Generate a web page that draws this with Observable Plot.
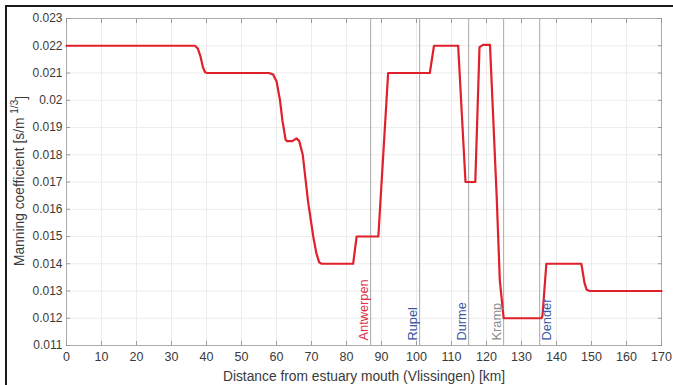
<!DOCTYPE html>
<html>
<head>
<meta charset="utf-8">
<script src="https://cdn.jsdelivr.net/npm/d3@7"></script>
<script src="https://cdn.jsdelivr.net/npm/@observablehq/plot@0.6"></script>
<style>
  html, body { margin: 0; padding: 0; background: #fff; }
  #wrap { position: relative; width: 673px; height: 385px; overflow: hidden; }
  #border { position: absolute; left: 5px; top: 5px; right: -10px; bottom: -10px;
            border-top: 2.5px solid #1a1a1a; border-left: 2.5px solid #1a1a1a; pointer-events: none; }
</style>
</head>
<body>
<div id="wrap"><div id="border"></div></div>
<script>
// Distance along estuary (km) and Manning coefficient (s/m^1/3)
const distanceKm = [0, 36.7, 37.5, 38.3, 39.0, 39.6, 40.2, 57.8, 59.0, 60.0, 61.0, 61.7, 62.6, 63.0, 64.5, 65.7, 66.5, 67.5, 69.0, 70.5, 71.4, 72.2, 72.9, 81.9, 82.9, 89.1, 91.9, 103.8, 105.0, 111.9, 114.0, 116.8, 118.0, 119.0, 121.0, 122.9, 123.8, 124.9, 135.7, 136.0, 137.1, 147.1, 148.0, 148.6, 149.5, 170];
const manning = [0.022, 0.022, 0.0219, 0.0216, 0.0212, 0.02103, 0.021, 0.021, 0.02095, 0.0207, 0.0200, 0.01925, 0.01855, 0.0185, 0.0185, 0.0186, 0.0185, 0.0180, 0.0163, 0.0150, 0.01438, 0.01405, 0.014, 0.014, 0.015, 0.015, 0.021, 0.021, 0.022, 0.022, 0.017, 0.017, 0.02195, 0.02203, 0.02203, 0.0165, 0.0134, 0.012, 0.012, 0.0121, 0.014, 0.014, 0.0133, 0.01305, 0.013, 0.013];

// Locations marked by vertical lines
const placeNames = ["Antwerpen", "Rupel", "Durme", "Kramp", "Dender"];
const placeKm = [86.9, 100.9, 114.9, 124.9, 135.2];
const placeColors = ["#e0304a", "#3a55a5", "#3a55a5", "#8c8c8c", "#3a55a5"];
const placeSide = ["left", "left", "left", "left", "right"];

const xTicks = [0, 10, 20, 30, 40, 50, 60, 70, 80, 90, 100, 110, 120, 130, 140, 150, 160, 170];
const yTicks = [0.011, 0.012, 0.013, 0.014, 0.015, 0.016, 0.017, 0.018, 0.019, 0.02, 0.021, 0.022, 0.023];
const yTickLabels = ["0.011", "0.012", "0.013", "0.014", "0.015", "0.016", "0.017", "0.018", "0.019", "0.02", "0.021", "0.022", "0.023"];

const xLabel = "Distance from estuary mouth (Vlissingen) [km]";

const series = distanceKm.map((d, i) => ({x: d, y: manning[i]}));
const places = placeNames.map((n, i) => ({name: n, x: placeKm[i], color: placeColors[i], side: placeSide[i]}));

const tickColor = "#9a9a9a";
const textColor = "#3a3a3a";

const chart = Plot.plot({
  width: 673,
  height: 385,
  marginLeft: 66,
  marginRight: 12,
  marginTop: 18,
  marginBottom: 40,
  style: {fontFamily: "'Liberation Sans', Arial, sans-serif", fontSize: "12px", background: "transparent", color: textColor},
  x: {domain: [0, 170]},
  y: {domain: [0.011, 0.023]},
  marks: [
    Plot.gridX(xTicks, {stroke: "#ececec", strokeOpacity: 1}),
    Plot.gridY(yTicks, {stroke: "#ececec", strokeOpacity: 1}),
    Plot.ruleX(places, {x: "x", stroke: "#a8a8a8", strokeWidth: 1}),
    Plot.frame({stroke: "#ababab"}),
    // outer labels
    Plot.axisX(xTicks, {anchor: "bottom", tickSize: 0, tickPadding: 7, label: null, fill: textColor, fontSize: 12.5}),
    Plot.axisY(yTicks, {anchor: "left", tickSize: 0, tickPadding: 4, label: null, fill: textColor, fontSize: 12,
      tickFormat: d => yTickLabels[yTicks.indexOf(d)]}),
    // inward ticks on all four sides
    Plot.axisX(xTicks, {anchor: "bottom", tickSize: -4, text: null, label: null, stroke: tickColor}),
    Plot.axisX(xTicks, {anchor: "top", tickSize: -4, text: null, label: null, stroke: tickColor}),
    Plot.axisY(yTicks, {anchor: "left", tickSize: -4, text: null, label: null, stroke: tickColor}),
    Plot.axisY(yTicks, {anchor: "right", tickSize: -4, text: null, label: null, stroke: tickColor}),
    Plot.line(series, {x: "x", y: "y", stroke: "#e0202a", strokeWidth: 2.2, curve: "linear"}),
    Plot.text(places.filter(d => d.side === "left"), {x: "x", y: () => 0.011, text: "name", fill: "color",
      rotate: -90, textAnchor: "start", lineAnchor: "middle", dx: -7, dy: -5, fontSize: 12.8}),
    Plot.text(places.filter(d => d.side === "right"), {x: "x", y: () => 0.011, text: "name", fill: "color",
      rotate: -90, textAnchor: "start", lineAnchor: "middle", dx: 7, dy: -5, fontSize: 12.8}),
    Plot.text([xLabel], {frameAnchor: "bottom", dy: 31, text: d => d, fill: textColor, fontSize: 13.8, lineAnchor: "middle"})
  ]
});

// y-axis title with superscript
const svg = d3.select(chart);
const yt = svg.append("text")
  .attr("transform", "translate(20,181) rotate(-90)")
  .attr("text-anchor", "middle")
  .attr("dominant-baseline", "middle")
  .attr("fill", textColor)
  .style("font-family", "'Liberation Sans', Arial, sans-serif")
  .style("font-size", "13.8px");
yt.append("tspan").text("Manning coefficient [s/m ");
yt.append("tspan").attr("dy", "-0.55em").style("font-size", "10px").text("1/3");
yt.append("tspan").attr("dy", "0.55em").text("]");

document.getElementById("wrap").prepend(chart);
</script>
</body>
</html>
